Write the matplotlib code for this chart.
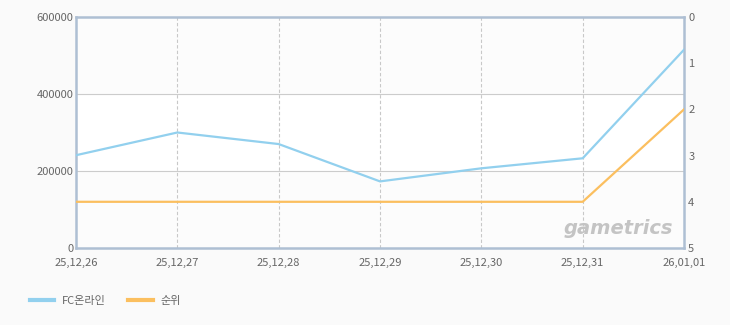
import matplotlib.pyplot as plt
from matplotlib.lines import Line2D

plt.rcParams['font.family'] = ['Noto Sans CJK KR', 'DejaVu Sans']

# 데이터
dates = ['25,12,26', '25,12,27', '25,12,28', '25,12,29', '25,12,30', '25,12,31', '26,01,01']
users = [241000, 300000, 270000, 173000, 207000, 233000, 515000]
rank = [4, 4, 4, 4, 4, 4, 2]
left_ticks = [0, 200000, 400000, 600000]
right_ticks = [0, 1, 2, 3, 4, 5]

blue = '#92d0ee'
orange = '#fbbf5f'
frame = '#aebfd3'
txt = '#666666'

fig = plt.figure(figsize=(7.3, 3.25), dpi=100, facecolor='#fafafa')
ax = fig.add_axes([76 / 730, 1 - 248 / 325, 608 / 730, 231 / 325])
ax.set_facecolor('#ffffff')

x = list(range(len(dates)))
ax.set_xlim(0, len(dates) - 1)
ax.set_ylim(0, 600000)

# 배경 밴드
ax.axhspan(400000, 600000, color='#fcfcfc', zorder=0)
ax.axhspan(0, 200000, color='#fcfcfc', zorder=0)

for xi in x[1:-1]:
    ax.axvline(xi, color='#c8c8c8', lw=0.8, ls=(0, (3, 2)), zorder=1)
for yv in left_ticks[1:-1]:
    ax.axhline(yv, color='#cccccc', lw=0.8, zorder=1)

ax.plot(x, users, color=blue, lw=1.6, zorder=3)

ax.set_yticks(left_ticks)
ax.set_yticklabels([str(v) for v in left_ticks])
ax.set_xticks(x)
ax.set_xticklabels(dates)
ax.tick_params(length=0, labelsize=8, colors=txt, pad=2)
ax.tick_params(axis='x', pad=7)
for s in ax.spines.values():
    s.set_color(frame)
    s.set_linewidth(1.8)

ax2 = ax.twinx()
ax2.set_ylim(5, 0)
ax2.plot(x, rank, color=orange, lw=1.6, zorder=3)
ax2.set_yticks(right_ticks)
ax2.tick_params(length=0, labelsize=8, colors=txt, pad=3)
for s in ax2.spines.values():
    s.set_visible(False)

# 워터마크
ax.text(0.982, 0.045, 'gametrics', transform=ax.transAxes, ha='right', va='bottom',
        fontsize=14, fontweight='bold', style='italic', color='#c4c4c4',
        family='DejaVu Sans', zorder=2)

handles = [Line2D([], [], color=blue, lw=3), Line2D([], [], color=orange, lw=3)]
fig.legend(handles, ['FC온라인', '순위'], loc='center left', bbox_to_anchor=(30 / 730, 1 - 301 / 325),
           ncol=2, frameon=False, fontsize=8, handlelength=2.2, columnspacing=2.0,
           handletextpad=0.7, labelcolor=txt, borderaxespad=0, borderpad=0)

fig.savefig('out.png', dpi=100, facecolor=fig.get_facecolor())
